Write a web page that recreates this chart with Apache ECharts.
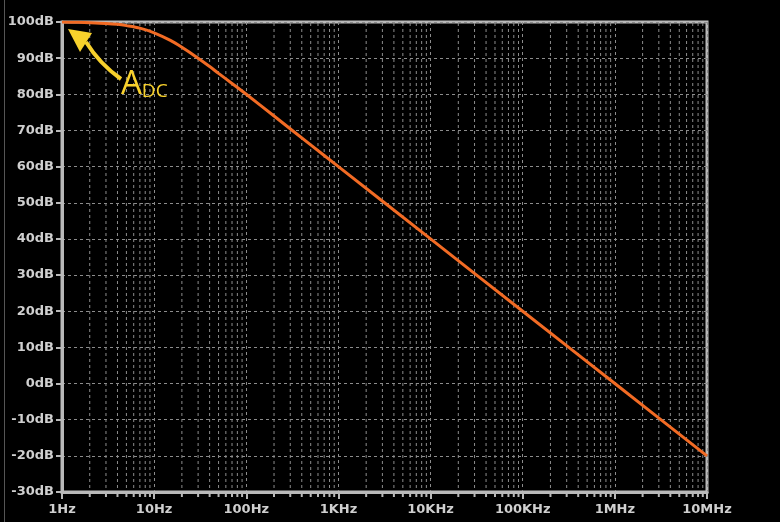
<!DOCTYPE html>
<html>
<head>
<meta charset="utf-8">
<script src="https://cdn.jsdelivr.net/npm/echarts@6/dist/echarts.min.js"></script>
<style>html,body{margin:0;padding:0;background:#000;}#c{width:780px;height:522px;}</style>
</head>
<body>
<div id="c"></div>
<script>
// Frequency (Hz) and gain (dB)
var freqs = [1, 1.5, 2, 3, 4, 5, 7, 10, 15, 20, 30, 40, 50, 70, 100, 200, 500, 1000, 10000, 100000, 1000000, 10000000];
var gains = [100, 99.9, 99.8, 99.6, 99.35, 99.0, 98.3, 97.0, 94.9, 93.0, 90.0, 87.7, 85.8, 83.0, 80.0, 74.0, 66.0, 60.0, 40.0, 20.0, 0.0, -20.0];
var xTickLabels = ['1Hz', '10Hz', '100Hz', '1KHz', '10KHz', '100KHz', '1MHz', '10MHz'];
var yMin = -30, yMax = 100, yStep = 10;
var minorMultipliers = [2, 3, 4, 5, 6, 7, 8, 9];

var minorFreqs = [];
for (var d = 0; d < xTickLabels.length - 1; d++) {
  for (var m = 0; m < minorMultipliers.length; m++) {
    minorFreqs.push(minorMultipliers[m] * Math.pow(10, d));
  }
}

var AXIS = '#b9b9b9', GRIDC = '#8c8c8c', LABEL = '#cfcfcf';
var chart = echarts.init(document.getElementById('c'), null, {renderer: 'canvas'});
chart.setOption({
  backgroundColor: '#000',
  animation: false,
  grid: {left: 62, top: 22, right: 73, bottom: 30, show: true, borderColor: AXIS, borderWidth: 3, backgroundColor: 'transparent'},
  xAxis: {
    type: 'log', logBase: 10, min: 1, max: 1e7, interval: 1,
    axisLine: {show: true, onZero: false, lineStyle: {color: AXIS, width: 3}},
    axisTick: {show: true, length: 7, inside: false, lineStyle: {color: AXIS, width: 2}},
    axisLabel: {
      color: LABEL, fontFamily: 'DejaVu Sans', fontWeight: 'bold', fontSize: 13, margin: 11,
      formatter: function (v) { return xTickLabels[Math.round(Math.log10(v))]; }
    },
    splitLine: {show: true, lineStyle: {color: GRIDC, type: [3, 3], width: 1}}
  },
  yAxis: {
    type: 'value', min: yMin, max: yMax, interval: yStep,
    axisLine: {show: true, onZero: false, lineStyle: {color: AXIS, width: 3}},
    axisTick: {show: true, length: 6, lineStyle: {color: AXIS, width: 2}},
    axisLabel: {
      color: LABEL, fontFamily: 'DejaVu Sans', fontWeight: 'bold', fontSize: 13, margin: 8,
      formatter: function (v) { return v + 'dB'; }
    },
    splitLine: {show: true, lineStyle: {color: GRIDC, type: [3, 3], width: 1}}
  },
  series: [
    {
      type: 'custom',
      z: 1,
      silent: true,
      clip: false,
      data: minorFreqs.map(function (f) { return [f]; }),
      encode: {x: 0},
      renderItem: function (params, api) {
        var f = api.value(0);
        var top = api.coord([f, yMax]);
        var bot = api.coord([f, yMin]);
        return {
          type: 'group',
          children: [
            {type: 'line', shape: {x1: top[0], y1: top[1] + 1, x2: bot[0], y2: bot[1] - 1},
             style: {stroke: GRIDC, lineWidth: 1, lineDash: [3, 3]}},
            {type: 'line', shape: {x1: bot[0], y1: bot[1], x2: bot[0], y2: bot[1] + 5},
             style: {stroke: AXIS, lineWidth: 2}}
          ]
        };
      }
    },
    {
      type: 'line',
      z: 5,
      data: freqs.map(function (f, i) { return [f, gains[i]]; }),
      smooth: 0.3,
      showSymbol: false,
      lineStyle: {color: '#f26b24', width: 3}
    }
  ],
  graphic: [
    {type: 'line', shape: {x1: 4.5, y1: 0, x2: 4.5, y2: 522}, style: {stroke: '#555', lineWidth: 1}},
    {type: 'bezierCurve', z: 10,
     shape: {x1: 86, y1: 42, cpx1: 94, cpy1: 55, cpx2: 104, cpy2: 67, x2: 121, y2: 79},
     style: {stroke: '#f8d12c', lineWidth: 4, fill: null}},
    {type: 'polygon', z: 10,
     shape: {points: [[68, 29], [92, 33], [80, 52]]},
     style: {fill: '#f8d12c'}},
    {type: 'text', z: 10, left: 121, top: 68,
     style: {
       text: '{a|A}{b|DC}',
       rich: {
         a: {fill: '#f8d12c', fontFamily: 'Open Sans', fontSize: 33, verticalAlign: 'bottom'},
         b: {fill: '#f8d12c', fontFamily: 'Open Sans', fontSize: 19, verticalAlign: 'bottom'}
       }
     }}
  ]
});
</script>
</body>
</html>
